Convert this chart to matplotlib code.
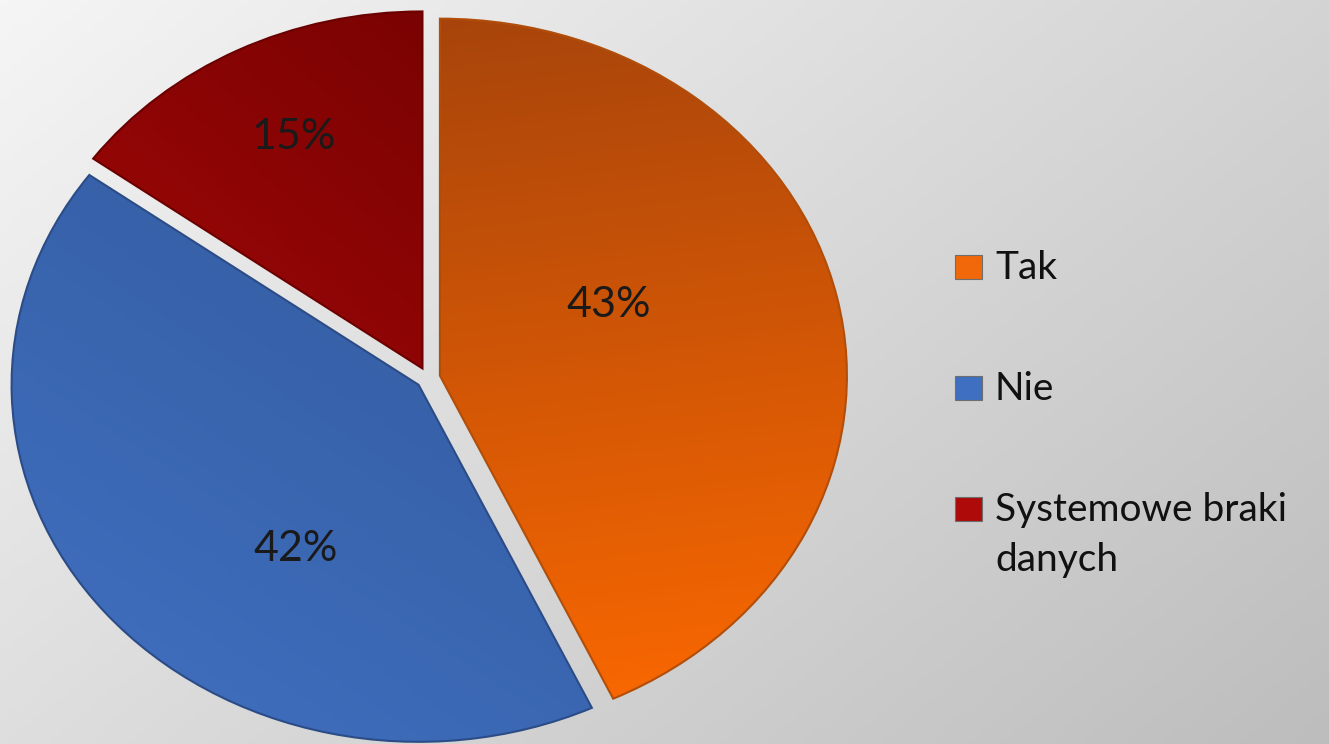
import numpy as np
import matplotlib.pyplot as plt
from matplotlib.colors import LinearSegmentedColormap
from matplotlib.patches import Rectangle

labels = ['Tak', 'Nie', 'Systemowe braki\ndanych']
shares = [43, 42, 15]
pct_labels = ['43%', '42%', '15%']

# gradient colours per slice (dark end, light end) and direction towards the light end
grad_colors = [('#A2420C', '#FF6A00'), ('#2D5190', '#4171C2'), ('#660000', '#B80A0A')]
grad_dirs = [(0.15, -1.0), (-0.6, -0.8), (-0.7, -0.7)]
legend_colors = ['#F0680A', '#3F6FC0', '#AE0A0A']
edge_colors = ['#B04E0A', '#2B4C86', '#6A0000']

W, H = 1329, 744
RX, RY = 407, 357          # pie radii in pixels (picture is stretched)
CX, CY = 428, 378          # pie centre in pixels

plt.rcParams['font.family'] = ['Lato', 'DejaVu Sans']

fig = plt.figure(figsize=(W / 100, H / 100), dpi=100)

# background gradient
bg = fig.add_axes([0, 0, 1, 1], zorder=0)
yy, xx = np.mgrid[0:1:200j, 0:1:300j]
val = 0.65 * xx + 0.45 * yy
bg_cmap = LinearSegmentedColormap.from_list('bg', ['#F5F5F5', '#BDBDBD'])
bg.imshow(val, cmap=bg_cmap, aspect='auto', extent=[0, 1, 0, 1], origin='upper')
bg.set_axis_off()

ax = fig.add_axes([0, 0, 1, 1], zorder=1)
ax.patch.set_alpha(0)
wedges, _ = ax.pie(shares, explode=[0.03] * 3, startangle=90, counterclock=False,
                   radius=1, center=(CX / RX, (H - CY) / RY), colors=legend_colors,
                   wedgeprops=dict(linewidth=1.5), frame=True)
ax.set_aspect('auto')
ax.set_xlim(0, W / RX)
ax.set_ylim(0, H / RY)
ax.set_axis_off()

label_shift = [13, 17, -1]
label_dist = [0.46, 0.55, 0.72]

for i, w in enumerate(wedges):
    w.set_edgecolor(edge_colors[i])
    cx, cy = w.center
    gy, gx = np.mgrid[1:-1:300j, -1:1:300j]
    dx, dy = grad_dirs[i]
    g = gx * dx + gy * dy
    g = (g - g.min()) / (g.max() - g.min())
    cmap = LinearSegmentedColormap.from_list('g%d' % i, list(grad_colors[i]))
    im = ax.imshow(g, cmap=cmap, extent=[cx - 1, cx + 1, cy - 1, cy + 1], aspect='auto',
                   origin='upper', zorder=w.get_zorder() + 0.1)
    im.set_clip_path(w)
    w.set_facecolor('none')
    w.set_zorder(w.get_zorder() + 0.2)

    mid = (w.theta1 + w.theta2) / 2 + label_shift[i]
    r = label_dist[i]
    ax.text(cx + r * np.cos(np.radians(mid)), cy + r * np.sin(np.radians(mid)),
            pct_labels[i], ha='center', va='center', fontsize=31, color='#1A1A1A',
            zorder=5)

# legend, drawn by hand so the marker sits on the first line of a two-line label
leg_x, leg_y, leg_step, line_step = 955 / W, 1 - 279 / H, 121 / H, 50 / H
for i, (lab, col) in enumerate(zip(labels, legend_colors)):
    y = leg_y - i * leg_step
    fig.patches.append(Rectangle((leg_x, y), 27 / W, 24 / H, transform=fig.transFigure,
                                 facecolor=col, edgecolor='#6E6E6E', linewidth=0.8))
    for j, line in enumerate(lab.split('\n')):
        fig.text(leg_x + 40 / W, y - j * line_step, line, ha='left', va='baseline',
                 fontsize=28, color='#111111')

fig.savefig('out.png', dpi=100)
